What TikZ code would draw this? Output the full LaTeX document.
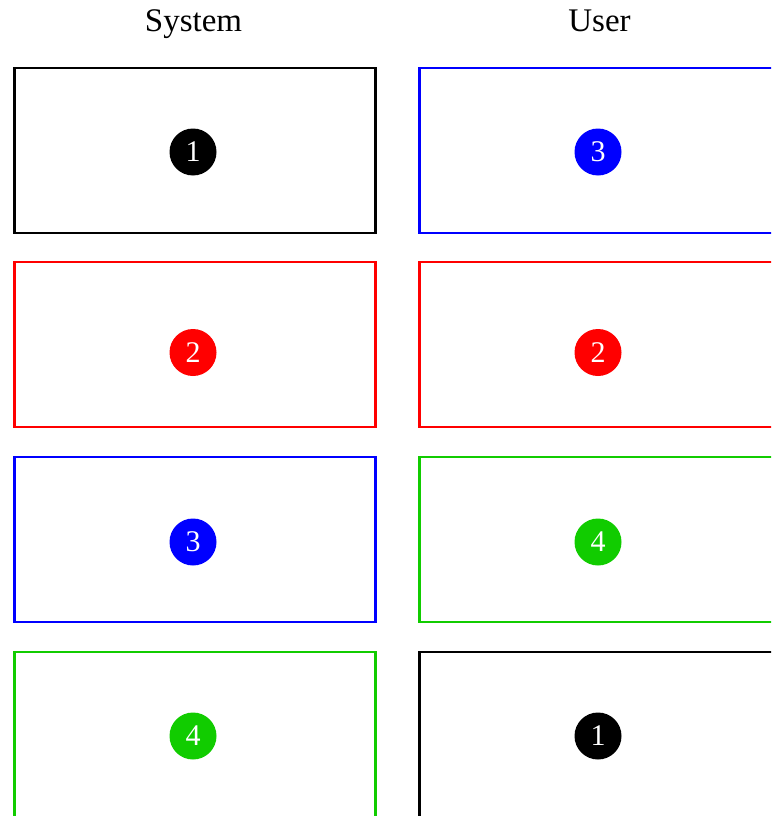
\documentclass[tikz,border=0pt]{standalone}
\usepackage{fontspec}
\setmainfont{Liberation Serif}
\usetikzlibrary{positioning}
\definecolor{blue}{RGB}{0,0,255}
\definecolor{red}{RGB}{255,0,0}
\definecolor{green}{RGB}{17,204,0}

\tikzset{
    panel/.style={draw=#1, line width=2.8pt, minimum width=361pt, minimum height=165pt, inner sep=0pt},
    badge/.style={circle, fill=#1, text=white, minimum size=47pt, inner sep=0pt, font=\fontsize{30}{30}\selectfont},
    heading/.style={anchor=base, font=\fontsize{33}{36}\selectfont}
}

\begin{document}
\begin{tikzpicture}[x=1pt, y=-1pt]
    \clip (0, 0) rectangle (771, 816);

    \node[heading] (systitle) at (193.5, 32) {System};
    \node[heading] (usrtitle) at (599.5, 32) {User};

    % rows: box centre, badge centre, left colour/number, right colour/number
    \foreach \row/\by/\cy/\lc/\ln/\rc/\rn in {1/150.5/152/black/1/blue/3, 2/344.5/352.5/red/2/red/2, 3/539.5/542/blue/3/green/4, 4/734.5/736/green/4/black/1} {
        \node[panel=\lc] (sys\row) at (195, \by) {};
        \node[panel=\rc] (usr\row) at (600, \by) {};
        \node[badge=\lc] (sysb\row) at (193, \cy) {\ln};
        \node[badge=\rc] (usrb\row) at (598, \cy) {\rn};
    }
\end{tikzpicture}
\end{document}
